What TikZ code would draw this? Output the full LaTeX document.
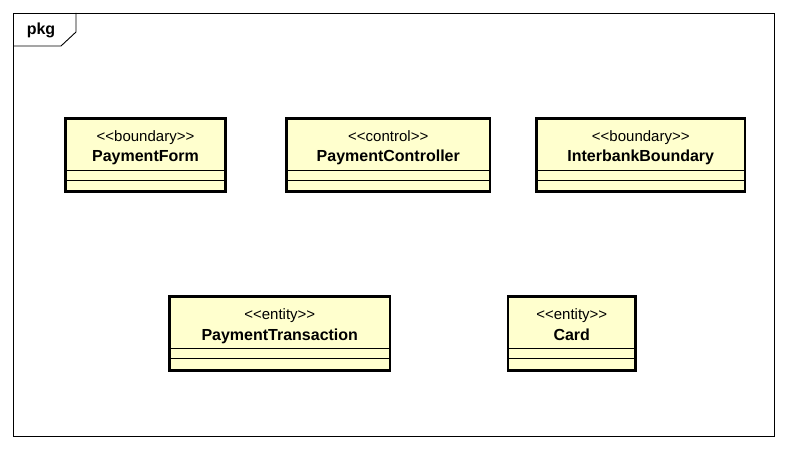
\documentclass[tikz,border=0pt]{standalone}
\usepackage{fontspec}
\newfontfamily\umlfont{Liberation Sans}
\definecolor{classfill}{RGB}{255,255,206}

% class box: name, x, y, width, height, stereotype, title
\newcommand{\umlclass}[7]{%
  \node[classbox, minimum width=#4pt, minimum height=#5pt] (#1) at (#2,#3) {};
  \node[stereo] (#1-st) at ([yshift=-22.8pt]#1.north) {<{}<#6>{}>};
  \node[title] (#1-name) at ([yshift=-43.5pt]#1.north) {#7};
  \draw[thin] ([yshift=-51.5pt]#1.north west) -- ([yshift=-51.5pt]#1.north east);
  \draw[thin] ([yshift=-62pt]#1.north west) -- ([yshift=-62pt]#1.north east);
}

\begin{document}
\begin{tikzpicture}[x=1pt, y=-1pt,
    classbox/.style={draw, line width=2.6pt, fill=classfill, inner sep=0pt, outer sep=0pt, anchor=north west},
    stereo/.style={font=\umlfont\fontsize{15}{17}\selectfont, inner sep=0pt, anchor=base},
    title/.style={font=\umlfont\bfseries\fontsize{16}{18}\selectfont, inner sep=0pt, anchor=base}]
    \useasboundingbox (0,0) rectangle (789,449);

    % package frame
    \draw[line width=0.9pt] (13,13) rectangle (774.5,436);
    \draw[line width=0.9pt] (13,46) -- (61,46) -- (76,32) -- (76,13);
    \node[title] (pkg) at (41,35) {pkg};

    % boundary / control classes
    \umlclass{form}{65.5}{118.5}{160}{73}{boundary}{PaymentForm}
    \umlclass{ctrl}{286.5}{118.5}{203.5}{73}{control}{PaymentController}
    \umlclass{bank}{536.5}{118.5}{208.5}{73}{boundary}{InterbankBoundary}

    % entity classes
    \umlclass{trans}{169.5}{296.5}{220.5}{74}{entity}{PaymentTransaction}
    \umlclass{card}{508}{296.5}{127.5}{74}{entity}{Card}
\end{tikzpicture}
\end{document}
